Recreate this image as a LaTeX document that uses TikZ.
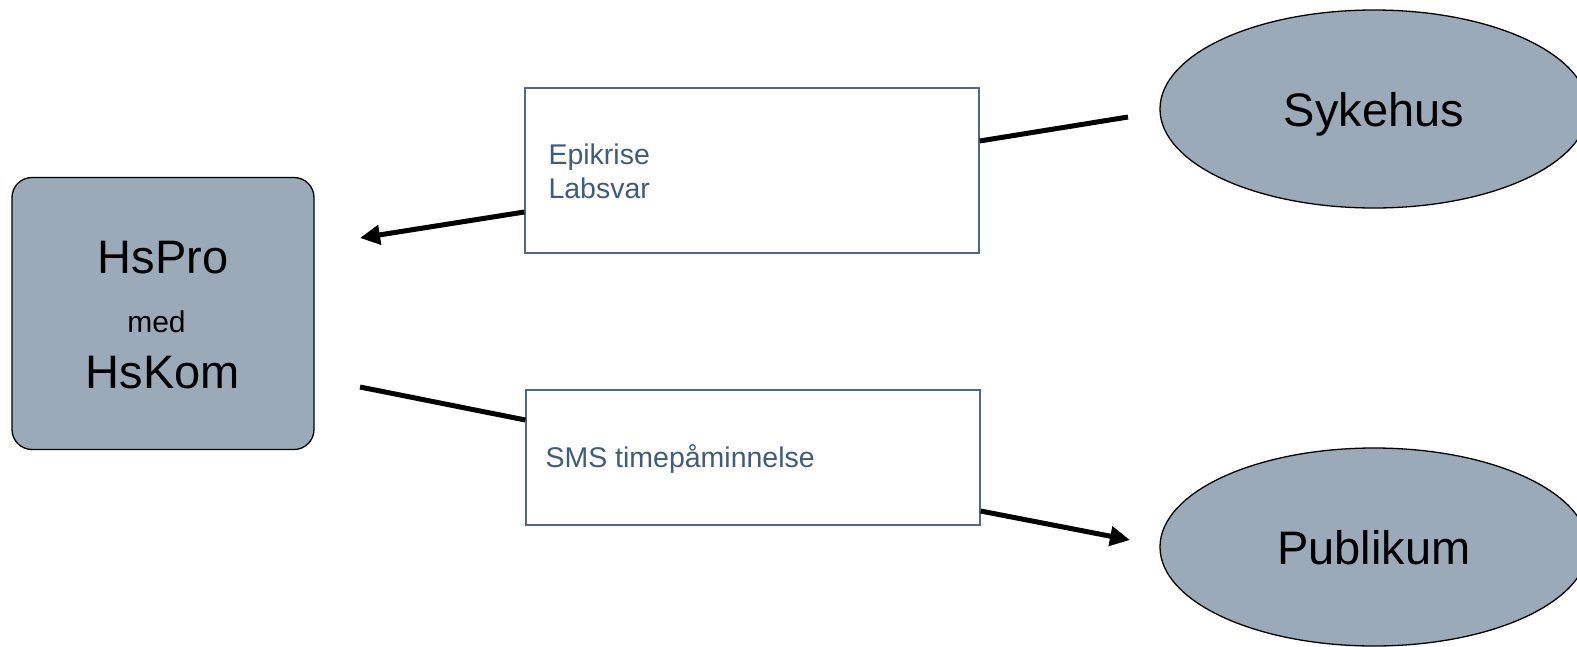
\documentclass[tikz,border=0pt]{standalone}
\usepackage{fontspec}
\setmainfont{Liberation Sans}
\usetikzlibrary{shapes.geometric,arrows.meta}

\definecolor{nodefill}{HTML}{9AAAB9}
\definecolor{boxline}{HTML}{4E6A89}
\definecolor{boxtext}{HTML}{3F5C7C}

\begin{document}
\begin{tikzpicture}[x=1pt,y=-1pt,
  bigtext/.style={font=\fontsize{47}{50}\selectfont},
  sysbox/.style={draw=black, line width=1.3pt, fill=nodefill, rounded corners=20pt,
    minimum width=302pt, minimum height=272pt, inner sep=0pt},
  party/.style={ellipse, draw=black, line width=1.3pt, fill=nodefill,
    minimum width=428pt, minimum height=198pt, inner sep=0pt, text depth=0pt, bigtext},
  msgbox/.style={draw=boxline, line width=1.3pt, fill=white, inner sep=0pt},
  msgtext/.style={text=boxtext, font=\fontsize{28.5}{34}\selectfont, anchor=base west, align=left},
  flow/.style={line width=5pt},
  tip/.style={-{Triangle[length=20pt,width=19pt]}}
]
\useasboundingbox (0,0) rectangle (1577,646);

% HsPro box on the left
\node[sysbox] (hs) at (163,313.5) {};
\node[bigtext, anchor=base] (hspro) at (163,273) {HsPro};
\node[font=\fontsize{30}{32}\selectfont, anchor=base] (med) at (156.5,332) {med};
\node[bigtext, anchor=base] (hskom) at (163,388) {HsKom};

% Parties on the right
\node[party] (syk) at (1374,109) {Sykehus};
\node[party] (pub) at (1374,547) {Publikum};

% Message boxes
\node[msgbox, minimum width=454pt, minimum height=165pt] (epik) at (752,170.5) {};
\node[msgtext] (epiktxt) at (545,198) {Epikrise\\Labsvar};
\node[msgbox, minimum width=454pt, minimum height=135pt] (sms) at (753,457.5) {};
\node[msgtext] (smstxt) at (542,467) {SMS timepåminnelse};

% Free line ends
\coordinate (sykend) at (1128,117);
\coordinate (hsin) at (360,238);
\coordinate (hsout) at (360,387);
\coordinate (pubin) at (1130,540);

% Flows
\draw[flow] (sykend) -- (epik.east |- 0,141);
\draw[flow, tip] (epik.west |- 0,212) -- (hsin);
\draw[flow] (hsout) -- (sms.west |- 0,420);
\draw[flow, tip] (sms.east |- 0,511) -- (pubin);

\end{tikzpicture}
\end{document}
